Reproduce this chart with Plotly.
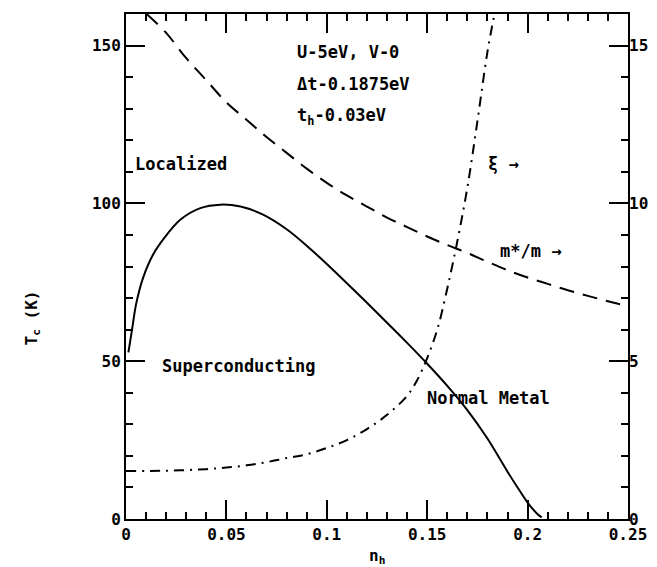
import plotly.graph_objects as go

# Tc (K) vs n_h, left axis
tc_n = [0.0012, 0.003, 0.005, 0.0085, 0.0135, 0.019, 0.027, 0.037, 0.047, 0.057, 0.068,
        0.08, 0.09, 0.1, 0.11, 0.12, 0.13, 0.14, 0.15, 0.16, 0.17, 0.18, 0.19, 0.195, 0.2, 0.205, 0.207]
tc_val = [52.8, 60, 68, 76.4, 83.8, 89, 94.8, 98.5, 99.6, 99, 96.5,
          91.8, 86.6, 80.8, 74.7, 68.5, 62.2, 55.8, 49.2, 42.2, 34.5, 25.5, 15, 10, 5.2, 1.5, 0.5]

# xi (coherence length), right axis
xi_n = [0.0, 0.02, 0.04, 0.05, 0.06, 0.07, 0.08, 0.09, 0.1, 0.11, 0.12, 0.13,
        0.14, 0.145, 0.15, 0.155, 0.16, 0.165, 0.17, 0.175, 0.18, 0.1835]
xi_val = [1.52, 1.53, 1.58, 1.63, 1.70, 1.80, 1.93, 2.05, 2.25, 2.50, 2.85, 3.30,
          3.90, 4.40, 5.10, 6.00, 7.30, 8.80, 10.5, 12.6, 14.8, 16.0]

# m*/m, right axis
m_n = [0.0103, 0.02, 0.03, 0.04, 0.05, 0.06, 0.07, 0.08, 0.09, 0.1, 0.11, 0.12, 0.13,
       0.14, 0.15, 0.16, 0.17, 0.18, 0.19, 0.2, 0.21, 0.22, 0.23, 0.24, 0.25]
m_val = [16.0, 15.4, 14.6, 13.9, 13.2, 12.65, 12.1, 11.6, 11.1, 10.65, 10.25, 9.9, 9.55,
         9.25, 8.95, 8.68, 8.43, 8.15, 7.88, 7.65, 7.45, 7.25, 7.07, 6.9, 6.74]

x_ticks = [0, 0.05, 0.1, 0.15, 0.2, 0.25]
x_labels = ["0", "0.05", "0.1", "0.15", "0.2", "0.25"]
yl_ticks = [0, 50, 100, 150]
yr_ticks = [0, 5, 10, 15]

FONT = "DejaVu Sans Mono"
tick_font = dict(family=FONT, size=16, color="black", weight="bold")
ann_font = dict(family=FONT, size=17, color="black", weight="bold")

fig = go.Figure()
fig.add_trace(go.Scatter(x=tc_n, y=tc_val, mode="lines",
                         line=dict(color="black", width=2, shape="spline", smoothing=0.8),
                         showlegend=False))
fig.add_trace(go.Scatter(x=xi_n, y=xi_val, mode="lines", yaxis="y2",
                         line=dict(color="black", width=2, dash="10px,6px,2px,6px", shape="spline"),
                         showlegend=False))
fig.add_trace(go.Scatter(x=m_n, y=m_val, mode="lines", yaxis="y2",
                         line=dict(color="black", width=2, dash="15px,9px", shape="spline"),
                         showlegend=False))

axis_common = dict(showline=True, linecolor="black", linewidth=2, ticks="inside", tickcolor="black",
                   tickwidth=2, ticklen=19, showgrid=False, zeroline=False, tickfont=tick_font)

# page body has an 8px margin, so the figure is offset by 8px
fig.update_layout(
    width=649, height=559,
    margin=dict(l=118, r=29, t=4, b=47.5),
    paper_bgcolor="white", plot_bgcolor="white",
    xaxis=dict(range=[0, 0.25], tickvals=x_ticks, ticktext=x_labels, mirror="ticks",
               minor=dict(dtick=0.01, ticks="inside", ticklen=7, tickcolor="black", tickwidth=1.5),
               **axis_common),
    yaxis=dict(range=[0, 160], tickvals=yl_ticks, mirror="ticks",
               minor=dict(dtick=10, ticks="inside", ticklen=7, tickcolor="black", tickwidth=1.5),
               **axis_common),
    yaxis2=dict(range=[0, 16], tickvals=yr_ticks, overlaying="y", side="right", showline=False,
                ticks="", showgrid=False, zeroline=False, tickfont=tick_font),
)

L, R, T, B = 126, 628, 12, 519.5
texts = [
    (295, 50, "U-5eV, V-0"),
    (295, 82, "Δt-0.1875eV"),
    (295, 115, "t<sub>h</sub>-0.03eV"),
    (133, 163, "Localized"),
    (160, 366, "Superconducting"),
    (425, 398, "Normal Metal"),
    (486, 163, "ξ →"),
    (498, 250, "m*/m →"),
]
for px, py, t in texts:
    fig.add_annotation(x=(px - L) / (R - L), y=(B - py) / (B - T), xref="paper", yref="paper", text=t,
                       showarrow=False, xanchor="left", yanchor="middle", font=ann_font)

fig.add_annotation(x=(377 - L) / (R - L), y=(B - 557) / (B - T), xref="paper", yref="paper",
                   text="n<sub>h</sub>", showarrow=False, xanchor="center", yanchor="middle", font=tick_font)
fig.add_annotation(x=(32 - L) / (R - L), y=(B - 318) / (B - T), xref="paper", yref="paper",
                   text="T<sub>c</sub> (K)", showarrow=False, textangle=-90, xanchor="center",
                   yanchor="middle", font=tick_font)

fig.write_html("out.html")
